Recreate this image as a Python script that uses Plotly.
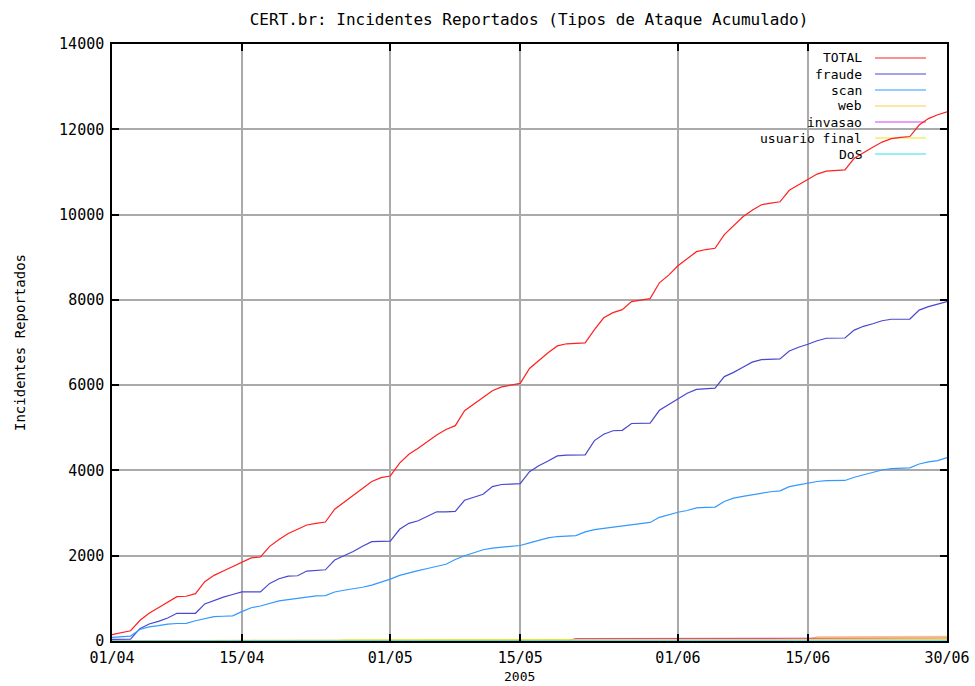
import pandas as pd
import plotly.graph_objects as go

# Daily cumulative counts, 01/04/2005 .. 30/06/2005
dates = pd.date_range("2005-04-01", "2005-06-30", freq="D")

total = [
    150, 200, 240, 480, 650, 780, 900, 1040, 1050, 1110,
    1390, 1540, 1640, 1740, 1840, 1950, 1970, 2220, 2380, 2520,
    2620, 2720, 2760, 2790, 3090, 3250, 3400, 3560, 3740, 3830,
    3870, 4170, 4380, 4520, 4680, 4830, 4960, 5050, 5400, 5560,
    5700, 5870, 5960, 6000, 6040, 6390, 6580, 6760, 6920, 6970,
    6980, 6990, 7300, 7580, 7700, 7770, 7960, 8000, 8030, 8400,
    8580, 8800, 8960, 9130, 9180, 9210, 9530, 9750, 9950, 10100,
    10230, 10270, 10300, 10570, 10700, 10830, 10950, 11020, 11040, 11050,
    11320, 11460, 11580, 11700, 11780, 11810, 11830, 12100, 12250, 12340,
    12410,
]

fraude = [
    40, 40, 45, 290, 400, 460, 540, 650, 650, 650,
    870, 950, 1030, 1090, 1150, 1150, 1150, 1350, 1460, 1520,
    1530, 1640, 1660, 1670, 1900, 2000, 2100, 2220, 2330, 2335,
    2340, 2620, 2760, 2820, 2920, 3030, 3030, 3040, 3300, 3370,
    3440, 3620, 3670, 3680, 3690, 3970, 4110, 4220, 4340, 4360,
    4360, 4365, 4700, 4850, 4930, 4940, 5100, 5105, 5110, 5410,
    5540, 5680, 5810, 5900, 5920, 5930, 6200, 6300, 6420, 6540,
    6600, 6610, 6615, 6800, 6890, 6960, 7040, 7100, 7100, 7105,
    7290, 7380, 7440, 7510, 7545, 7545, 7550, 7760, 7840, 7900,
    7960,
]

scan = [
    85, 100, 115, 270, 330, 360, 395, 410, 415, 475,
    520, 570, 580, 590, 690, 780, 820, 880, 940, 970,
    1000, 1030, 1060, 1065, 1150, 1190, 1220, 1260, 1310, 1380,
    1450, 1540, 1600, 1650, 1700, 1750, 1800, 1910, 2000, 2070,
    2140, 2180, 2200, 2210, 2240, 2300, 2360, 2420, 2450, 2465,
    2470, 2560, 2610, 2640, 2670, 2690, 2720, 2760, 2780, 2900,
    2960, 3020, 3060, 3120, 3135, 3140, 3270, 3350, 3390, 3430,
    3460, 3500, 3520, 3620, 3660, 3700, 3740, 3760, 3760, 3765,
    3840, 3900, 3950, 4010, 4040, 4050, 4060, 4150, 4200, 4230,
    4300,
]

web = [
    0, 0, 0, 0, 0, 0, 0, 0, 0, 0,
    0, 0, 0, 16, 17, 18, 18, 18, 19, 20,
    20, 21, 21, 21, 22, 22, 22, 22, 23, 23,
    23, 23, 24, 24, 24, 24, 24, 25, 25, 25,
    25, 26, 26, 26, 26, 26, 27, 27, 27, 27,
    28, 28, 28, 28, 29, 29, 29, 29, 30, 30,
    30, 30, 31, 31, 31, 31, 32, 32, 32, 32,
    33, 33, 33, 33, 34, 34, 98, 99, 100, 101,
    101, 101, 102, 103, 104, 105, 105, 105, 106, 107,
    108,
]

invasao = [
    0, 0, 0, 0, 0, 0, 0, 0, 0, 0,
    0, 0, 0, 0, 0, 0, 0, 0, 0, 0,
    0, 0, 0, 0, 0, 0, 0, 0, 0, 0,
    0, 0, 0, 0, 0, 0, 0, 0, 0, 0,
    0, 0, 0, 0, 0, 0, 0, 0, 0, 0,
    56, 56, 57, 57, 57, 58, 58, 59, 59, 59,
    59, 60, 60, 61, 61, 61, 61, 62, 62, 63,
    63, 63, 63, 64, 64, 65, 65, 65, 65, 66,
    66, 67, 67, 67, 67, 68, 68, 69, 69, 69,
    70,
]

usuario_final = [
    0, 0, 0, 0, 0, 0, 0, 0, 0, 0,
    0, 0, 0, 0, 0, 0, 0, 0, 0, 0,
    0, 0, 0, 0, 0, 22, 22, 22, 23, 23,
    23, 23, 24, 24, 24, 24, 24, 25, 25, 25,
    25, 26, 26, 26, 26, 26, 27, 27, 27, 27,
    28, 28, 28, 28, 29, 29, 29, 29, 30, 30,
    30, 30, 31, 31, 31, 31, 32, 32, 32, 32,
    33, 33, 33, 33, 34, 34, 34, 34, 35, 35,
    35, 35, 36, 36, 36, 36, 37, 37, 37, 37,
    38,
]

dos = [
    0, 0, 0, 0, 0, 0, 0, 0, 0, 0,
    0, 0, 0, 0, 0, 0, 0, 0, 0, 0,
    0, 0, 0, 0, 0, 0, 0, 0, 0, 0,
    0, 1, 1, 1, 1, 1, 1, 1, 1, 1,
    1, 1, 1, 1, 1, 2, 2, 2, 2, 2,
    2, 2, 2, 2, 2, 2, 2, 2, 2, 2,
    3, 3, 3, 3, 3, 3, 3, 3, 3, 3,
    3, 3, 3, 3, 3, 4, 4, 4, 4, 4,
    4, 4, 4, 4, 4, 4, 4, 4, 4, 5,
    5,
]

series_names = ["TOTAL", "fraude", "scan", "web", "invasao", "usuario final", "DoS"]
series_values = [total, fraude, scan, web, invasao, usuario_final, dos]
series_colors = ["#ff2020", "#4848d0", "#3399ff", "#ffc850", "#cc44ee", "#e8e820", "#33e0ee"]

x_tick_dates = ["2005-04-01", "2005-04-15", "2005-05-01", "2005-05-15",
                "2005-06-01", "2005-06-15", "2005-06-30"]
x_tick_labels = ["01/04", "15/04", "01/05", "15/05", "01/06", "15/06", "30/06"]
y_ticks = [0, 2000, 4000, 6000, 8000, 10000, 12000, 14000]

FONT = "DejaVu Sans Mono"
W, H = 975, 686
ML, MR, MT, MB = 112, 28, 44, 45
PW, PH = W - ML - MR, H - MT - MB


def px_x(p):
    return (p - ML) / PW


def px_y(p):
    return (H - MB - p) / PH


fig = go.Figure()
for name, vals, color in zip(series_names, series_values, series_colors):
    fig.add_trace(go.Scatter(
        x=dates, y=vals, mode="lines", name=name,
        line=dict(color=color, width=1.2),
        showlegend=False, hoverinfo="x+y+name",
    ))

# Key: opaque box over the grid, text right-aligned with a line sample after it
shapes = [dict(type="rect", xref="paper", yref="paper",
               x0=px_x(725), x1=px_x(940), y0=px_y(164), y1=px_y(49),
               fillcolor="white", line=dict(width=0), layer="between")]
annotations = []
for i, (name, color) in enumerate(zip(series_names, series_colors)):
    row = 58 + 16 * i
    annotations.append(dict(
        text=name, xref="paper", yref="paper", x=px_x(864), y=px_y(row),
        xanchor="right", yanchor="middle", showarrow=False,
        font=dict(family=FONT, size=13, color="black"),
    ))
    shapes.append(dict(
        type="line", xref="paper", yref="paper",
        x0=px_x(875), x1=px_x(926), y0=px_y(row), y1=px_y(row),
        line=dict(color=color, width=1.2), layer="between",
    ))

# Axis caption for the year, set just under the date labels
annotations.append(dict(
    text="2005", xref="paper", yref="paper", x=px_x(519), y=px_y(676),
    xanchor="center", yanchor="middle", showarrow=False,
    font=dict(family=FONT, size=13, color="black"),
))

axis_common = dict(
    showgrid=True, gridcolor="#aaaaaa", gridwidth=1.5,
    showline=True, linecolor="black", linewidth=1.5, mirror="ticks",
    ticks="inside", ticklen=7, tickwidth=1.5, tickcolor="black",
    zeroline=False, tickfont=dict(family=FONT, size=15, color="black"),
)

fig.update_layout(
    width=W, height=H,
    margin=dict(l=ML, r=MR, t=MT, b=MB, autoexpand=False),
    paper_bgcolor="white", plot_bgcolor="white",
    font=dict(family=FONT, size=15, color="black"),
    title=dict(
        text="CERT.br: Incidentes Reportados (Tipos de Ataque Acumulado)",
        x=529 / W, xanchor="center",
        y=1 - 19 / H, yanchor="middle", yref="container",
        font=dict(family=FONT, size=16, color="black"),
    ),
    xaxis=dict(
        type="date", range=["2005-04-01", "2005-06-30"],
        tickmode="array", tickvals=x_tick_dates, ticktext=x_tick_labels,
        ticklabelstandoff=2,
        **axis_common,
    ),
    yaxis=dict(
        range=[0, 14000], tickmode="array", tickvals=y_ticks,
        ticktext=[str(v) for v in y_ticks], ticklabelstandoff=3,
        title=dict(text="Incidentes Reportados", standoff=30,
                   font=dict(family=FONT, size=14, color="black")),
        **axis_common,
    ),
    shapes=shapes,
    annotations=annotations,
)

fig.write_html("out.html")
